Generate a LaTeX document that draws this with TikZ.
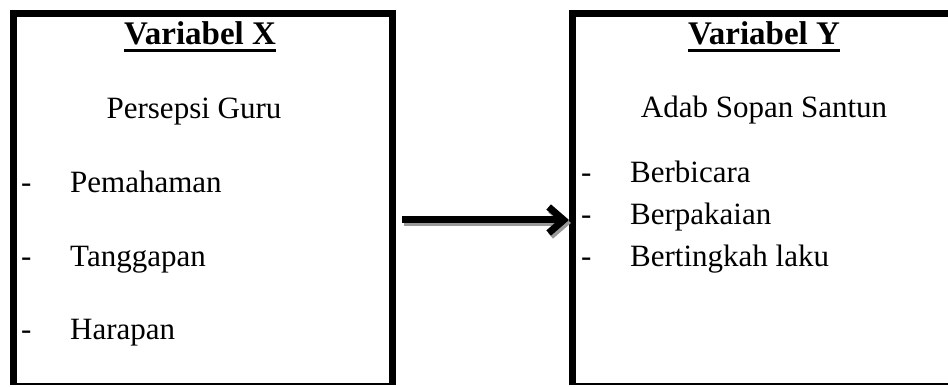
\documentclass[tikz,border=0pt]{standalone}
\usepackage{fontspec}
\setmainfont{Liberation Serif}
\usetikzlibrary{arrows.meta}
\begin{document}
\begin{tikzpicture}[x=1pt,y=-1pt,
  boxarea/.style={inner sep=0pt, outer sep=0pt},
  thickedge/.style={line width=7pt, line join=miter, line cap=butt},
  thinedge/.style={line width=2.5pt},
  head/.style={font=\fontsize{33}{39}\selectfont\bfseries, inner sep=0pt, anchor=base},
  sub/.style={font=\fontsize{31}{37}\selectfont, inner sep=0pt, anchor=base},
  item/.style={font=\fontsize{31}{37}\selectfont, inner sep=0pt, anchor=base west},
  arr/.style={line width=7pt, -{Straight Barb[length=15pt,width=26pt]}},
  shadowarr/.style={arr, draw=black!40}
]
\useasboundingbox (0,0) rectangle (948,387);
\fill[white] (0,0) rectangle (948,387);
% box areas (outer extents)
\node[boxarea, minimum width=386pt, minimum height=375pt] (bx) at (203,197.5) {};
\node[boxarea, minimum width=400pt, minimum height=375pt] (by) at (769,197.5) {};
% left box borders
\draw[thickedge] ([xshift=3.5pt]bx.south west) -- ([xshift=3.5pt,yshift=-3.5pt]bx.north west) -- ([xshift=-3.5pt,yshift=-3.5pt]bx.north east) -- ([xshift=-3.5pt]bx.south east);
\draw[thinedge] ([yshift=1.25pt]bx.south west) -- ([yshift=1.25pt]bx.south east);
% right box borders
\draw[thickedge] ([xshift=3.5pt]by.south west) -- ([xshift=3.5pt,yshift=-3.5pt]by.north west) -- ([yshift=-3.5pt]by.north east);
\draw[thinedge] ([yshift=1.25pt]by.south west) -- ([yshift=1.25pt]by.south east);
% headings
\node[head] (vx) at (200,45) {Variabel X};
\draw[line width=3pt] ([yshift=-5.5pt]vx.base west) -- ([yshift=-5.5pt]vx.base east);
\node[head] (vy) at (764,45) {Variabel Y};
\draw[line width=3pt] ([yshift=-5.5pt]vy.base west) -- ([yshift=-5.5pt]vy.base east);
% left contents
\node[sub] (px) at (194,119) {Persepsi Guru};
\node[item] (d1) at (21,193) {-};
\node[item] (t1) at (70,193) {Pemahaman};
\node[item] (d2) at (21,267) {-};
\node[item] (t2) at (70,267) {Tanggapan};
\node[item] (d3) at (21,340) {-};
\node[item] (t3) at (70,340) {Harapan};
% right contents
\node[sub] (py) at (764,118) {Adab Sopan Santun};
\node[item] (e1) at (581,183) {-};
\node[item] (u1) at (630,183) {Berbicara};
\node[item] (e2) at (581,225) {-};
\node[item] (u2) at (630,225) {Berpakaian};
\node[item] (e3) at (581,267) {-};
\node[item] (u3) at (630,267) {Bertingkah laku};
% arrow
\coordinate (mid) at (0,220);
\draw[shadowarr] ([xshift=8pt,yshift=-3pt]bx.east |- mid) -- ([xshift=2pt,yshift=-3pt]by.west |- mid);
\draw[arr] ([xshift=6pt]bx.east |- mid) -- ([xshift=0pt]by.west |- mid);
\end{tikzpicture}
\end{document}
